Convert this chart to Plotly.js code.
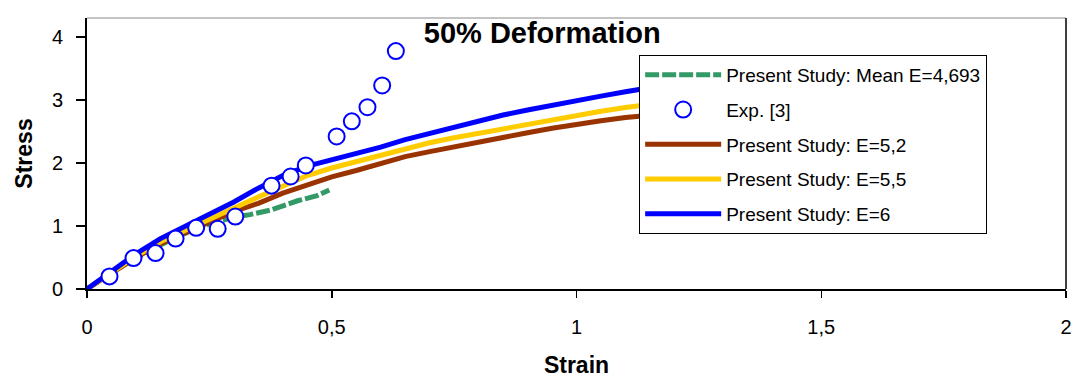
<!DOCTYPE html>
<html>
<head>
<meta charset="utf-8">
<script src="https://cdn.plot.ly/plotly-3.0.1.min.js"></script>
<style>html,body{margin:0;padding:0;background:#fff;}#chart{width:1075px;height:385px;}</style>
</head>
<body>
<div id="chart"></div>
<script>
// Strain grid for model curves
const strainModel = [0, 0.05, 0.1, 0.15, 0.2, 0.25, 0.3, 0.35, 0.4, 0.45, 0.5, 0.55, 0.6, 0.65, 0.7, 0.75, 0.8, 0.85, 0.9, 0.95, 1.0, 1.05, 1.1, 1.14];
const stressE6  = [0, 0.29, 0.56, 0.80, 0.99, 1.18, 1.38, 1.60, 1.80, 1.95, 2.05, 2.14, 2.25, 2.37, 2.47, 2.57, 2.67, 2.76, 2.84, 2.92, 2.99, 3.06, 3.13, 3.18];
const stressE55 = [0, 0.27, 0.52, 0.75, 0.93, 1.10, 1.30, 1.46, 1.63, 1.80, 1.92, 2.02, 2.12, 2.23, 2.32, 2.40, 2.47, 2.55, 2.63, 2.70, 2.76, 2.82, 2.88, 2.92];
const stressE52 = [0, 0.26, 0.50, 0.72, 0.90, 1.06, 1.23, 1.36, 1.52, 1.66, 1.78, 1.88, 1.99, 2.10, 2.18, 2.26, 2.32, 2.40, 2.48, 2.55, 2.62, 2.67, 2.72, 2.75];

// Mean E curve
const strainMean = [0, 0.05, 0.1, 0.15, 0.2, 0.25, 0.3, 0.333, 0.374, 0.43, 0.47, 0.495];
const stressMean = [0, 0.26, 0.49, 0.70, 0.88, 1.03, 1.14, 1.18, 1.25, 1.40, 1.48, 1.57];

// Experimental points Exp. [3]
const strainExp = [0.046, 0.095, 0.140, 0.181, 0.223, 0.267, 0.303, 0.377, 0.416, 0.447, 0.510, 0.541, 0.573, 0.603, 0.631];
const stressExp = [0.20, 0.49, 0.57, 0.80, 0.97, 0.955, 1.15, 1.64, 1.785, 1.96, 2.42, 2.66, 2.885, 3.23, 3.775];

const names = {
  mean: "Present Study: Mean E=4,693",
  exp: "Exp. [3]",
  e52: "Present Study: E=5,2",
  e55: "Present Study: E=5,5",
  e6: "Present Study: E=6"
};
const xTickVals = [0, 0.5, 1, 1.5, 2];
const xTickText = ["0", "0,5", "1", "1,5", "2"];
const yTickVals = [0, 1, 2, 3, 4];

const traces = [
  {x: strainMean, y: stressMean, name: names.mean, mode: "lines", legendgroup: "a", legendrank: 1,
   line: {color: "#339966", width: 5, dash: "14px,3px"}},
  {x: strainModel, y: stressE52, name: names.e52, mode: "lines", legendgroup: "c", legendrank: 3,
   line: {color: "#993300", width: 5}},
  {x: strainModel, y: stressE55, name: names.e55, mode: "lines", legendgroup: "d", legendrank: 4,
   line: {color: "#FFCC00", width: 5}},
  {x: strainModel, y: stressE6, name: names.e6, mode: "lines", legendgroup: "e", legendrank: 5,
   line: {color: "#0000FF", width: 5}},
  {x: strainExp, y: stressExp, name: names.exp, mode: "markers", legendgroup: "b", legendrank: 2,
   marker: {symbol: "circle", size: 16, color: "#FFFFFF", line: {color: "#0000FF", width: 2}}}
];

const font = "Arial, 'Liberation Sans', sans-serif";
const layout = {
  width: 1075, height: 385,
  margin: {l: 87, r: 9, t: 18, b: 96, pad: 0},
  paper_bgcolor: "#fff", plot_bgcolor: "#fff",
  font: {family: font, color: "#000"},
  separators: ",.",
  title: {text: "<b>50% Deformation</b>", font: {family: font, size: 29, color: "#000"},
          x: 0.465, xanchor: "center", xref: "paper", y: 0.914, yanchor: "middle", yref: "container"},
  xaxis: {range: [0, 2], tickvals: xTickVals, ticktext: xTickText, ticks: "outside", ticklen: 7, tickwidth: 1.5,
          tickcolor: "#000", showline: true, linecolor: "#000", linewidth: 2, showgrid: false, zeroline: false,
          tickfont: {family: font, size: 20, color: "#000"}, ticklabelstandoff: 12,
          title: {text: "<b>Strain</b>", font: {family: font, size: 23, color: "#000"}, standoff: 20}},
  yaxis: {range: [0, 4.3], tickvals: yTickVals, ticks: "outside", ticklen: 9, tickwidth: 1.5,
          tickcolor: "#000", showline: true, linecolor: "#000", linewidth: 2, showgrid: false, zeroline: false,
          tickfont: {family: font, size: 20, color: "#000"}, ticklabelstandoff: 9,
          title: {text: "<b>Stress</b>", font: {family: font, size: 23, color: "#000"}, standoff: 13}},
  legend: {x: 0.564, y: 0.8635, xanchor: "left", yanchor: "top", bgcolor: "#fff", bordercolor: "#000", borderwidth: 1,
           font: {family: font, size: 19, color: "#000"}, tracegroupgap: 7, itemwidth: 76},
  shapes: [
    {type: "line", xref: "paper", yref: "paper", x0: 0, x1: 1, y0: 1, y1: 1, line: {color: "#888", width: 1}},
    {type: "line", xref: "paper", yref: "paper", x0: 1, x1: 1, y0: 0, y1: 1, line: {color: "#000", width: 1.5}}
  ],
  showlegend: true
};

Plotly.newPlot("chart", traces, layout, {displayModeBar: false, staticPlot: true});
</script>
</body>
</html>
